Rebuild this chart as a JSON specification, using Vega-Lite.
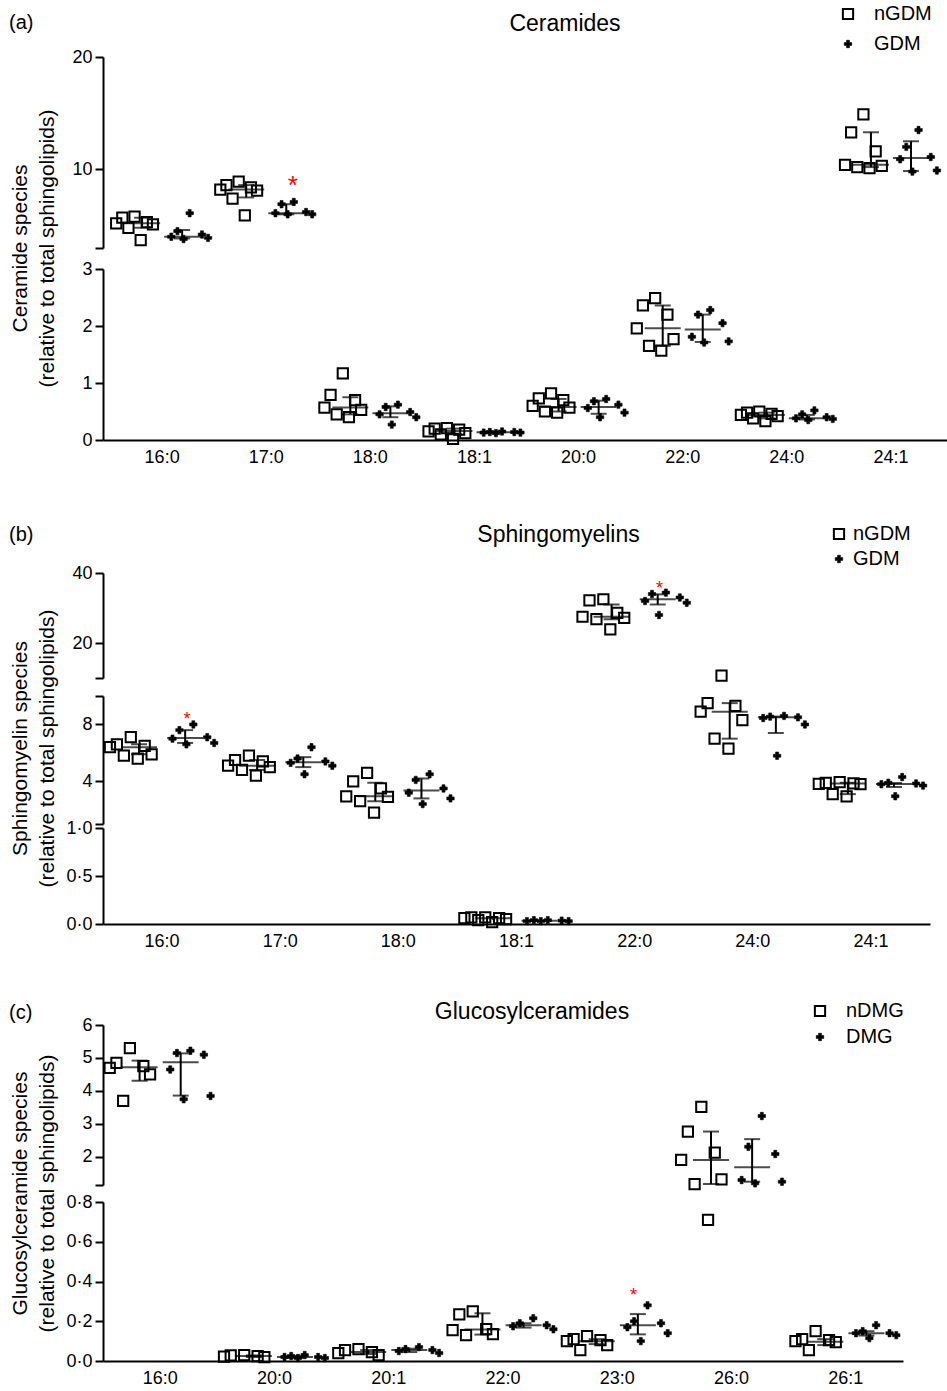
{
"$schema":"https://vega.github.io/schema/vega-lite/v6.json",
"background":"white",
"padding":{"left":8,"top":4,"right":0,"bottom":0},
"config":{
 "font":"Liberation Sans",
 "view":{"stroke":null},
 "axis":{"domainColor":"black","domainWidth":2,"tickColor":"black","tickWidth":2,"tickSize":8,"labelColor":"black","labelFontSize":18,"titleFontSize":21,"titleFontWeight":"normal","titleColor":"black","grid":false,"labelPadding":3,"labelOverlap":false},
 "title":{"fontWeight":"normal","color":"black","fontSize":23}
},
"datasets":{
"pa":[
{"species":"16:0","group":"nGDM","id":"n1","value":5.8},{"species":"16:0","group":"nGDM","id":"n2","value":5.7},{"species":"16:0","group":"nGDM","id":"n3","value":5.3},{"species":"16:0","group":"nGDM","id":"n4","value":5.2},{"species":"16:0","group":"nGDM","id":"n5","value":5.1},{"species":"16:0","group":"nGDM","id":"n6","value":4.8},{"species":"16:0","group":"nGDM","id":"n7","value":3.7},
{"species":"16:0","group":"GDM","id":"g1","value":6.1},{"species":"16:0","group":"GDM","id":"g2","value":4.5},{"species":"16:0","group":"GDM","id":"g3","value":4.2},{"species":"16:0","group":"GDM","id":"g4","value":4.0},{"species":"16:0","group":"GDM","id":"g5","value":3.9},{"species":"16:0","group":"GDM","id":"g6","value":3.8},
{"species":"17:0","group":"nGDM","id":"n1","value":8.9},{"species":"17:0","group":"nGDM","id":"n2","value":8.6},{"species":"17:0","group":"nGDM","id":"n3","value":8.4},{"species":"17:0","group":"nGDM","id":"n4","value":8.2},{"species":"17:0","group":"nGDM","id":"n5","value":8.1},{"species":"17:0","group":"nGDM","id":"n6","value":7.4},{"species":"17:0","group":"nGDM","id":"n7","value":5.9},
{"species":"17:0","group":"GDM","id":"g1","value":7.1},{"species":"17:0","group":"GDM","id":"g2","value":6.9},{"species":"17:0","group":"GDM","id":"g3","value":6.2},{"species":"17:0","group":"GDM","id":"g4","value":6.1},{"species":"17:0","group":"GDM","id":"g5","value":6.0},{"species":"17:0","group":"GDM","id":"g6","value":6.0},
{"species":"18:0","group":"nGDM","id":"n1","value":1.17},{"species":"18:0","group":"nGDM","id":"n2","value":0.79},{"species":"18:0","group":"nGDM","id":"n3","value":0.70},{"species":"18:0","group":"nGDM","id":"n4","value":0.57},{"species":"18:0","group":"nGDM","id":"n5","value":0.53},{"species":"18:0","group":"nGDM","id":"n6","value":0.45},{"species":"18:0","group":"nGDM","id":"n7","value":0.40},
{"species":"18:0","group":"GDM","id":"g1","value":0.62},{"species":"18:0","group":"GDM","id":"g2","value":0.58},{"species":"18:0","group":"GDM","id":"g3","value":0.49},{"species":"18:0","group":"GDM","id":"g4","value":0.45},{"species":"18:0","group":"GDM","id":"g5","value":0.40},{"species":"18:0","group":"GDM","id":"g6","value":0.27},
{"species":"18:1","group":"nGDM","id":"n1","value":0.21},{"species":"18:1","group":"nGDM","id":"n2","value":0.20},{"species":"18:1","group":"nGDM","id":"n3","value":0.18},{"species":"18:1","group":"nGDM","id":"n4","value":0.15},{"species":"18:1","group":"nGDM","id":"n5","value":0.12},{"species":"18:1","group":"nGDM","id":"n6","value":0.10},{"species":"18:1","group":"nGDM","id":"n7","value":0.02},
{"species":"18:1","group":"GDM","id":"g1","value":0.15},{"species":"18:1","group":"GDM","id":"g2","value":0.14},{"species":"18:1","group":"GDM","id":"g3","value":0.14},{"species":"18:1","group":"GDM","id":"g4","value":0.13},{"species":"18:1","group":"GDM","id":"g5","value":0.13},{"species":"18:1","group":"GDM","id":"g6","value":0.12},
{"species":"20:0","group":"nGDM","id":"n1","value":0.82},{"species":"20:0","group":"nGDM","id":"n2","value":0.73},{"species":"20:0","group":"nGDM","id":"n3","value":0.70},{"species":"20:0","group":"nGDM","id":"n4","value":0.60},{"species":"20:0","group":"nGDM","id":"n5","value":0.57},{"species":"20:0","group":"nGDM","id":"n6","value":0.50},{"species":"20:0","group":"nGDM","id":"n7","value":0.48},
{"species":"20:0","group":"GDM","id":"g1","value":0.72},{"species":"20:0","group":"GDM","id":"g2","value":0.68},{"species":"20:0","group":"GDM","id":"g3","value":0.62},{"species":"20:0","group":"GDM","id":"g4","value":0.56},{"species":"20:0","group":"GDM","id":"g5","value":0.48},{"species":"20:0","group":"GDM","id":"g6","value":0.40},
{"species":"22:0","group":"nGDM","id":"n1","value":2.49},{"species":"22:0","group":"nGDM","id":"n2","value":2.36},{"species":"22:0","group":"nGDM","id":"n3","value":2.20},{"species":"22:0","group":"nGDM","id":"n4","value":1.96},{"species":"22:0","group":"nGDM","id":"n5","value":1.77},{"species":"22:0","group":"nGDM","id":"n6","value":1.65},{"species":"22:0","group":"nGDM","id":"n7","value":1.57},
{"species":"22:0","group":"GDM","id":"g1","value":2.28},{"species":"22:0","group":"GDM","id":"g2","value":2.20},{"species":"22:0","group":"GDM","id":"g3","value":2.05},{"species":"22:0","group":"GDM","id":"g4","value":1.81},{"species":"22:0","group":"GDM","id":"g5","value":1.73},{"species":"22:0","group":"GDM","id":"g6","value":1.71},
{"species":"24:0","group":"nGDM","id":"n1","value":0.50},{"species":"24:0","group":"nGDM","id":"n2","value":0.48},{"species":"24:0","group":"nGDM","id":"n3","value":0.46},{"species":"24:0","group":"nGDM","id":"n4","value":0.44},{"species":"24:0","group":"nGDM","id":"n5","value":0.42},{"species":"24:0","group":"nGDM","id":"n6","value":0.38},{"species":"24:0","group":"nGDM","id":"n7","value":0.33},
{"species":"24:0","group":"GDM","id":"g1","value":0.52},{"species":"24:0","group":"GDM","id":"g2","value":0.45},{"species":"24:0","group":"GDM","id":"g3","value":0.40},{"species":"24:0","group":"GDM","id":"g4","value":0.38},{"species":"24:0","group":"GDM","id":"g5","value":0.37},{"species":"24:0","group":"GDM","id":"g6","value":0.35},
{"species":"24:1","group":"nGDM","id":"n1","value":14.9},{"species":"24:1","group":"nGDM","id":"n2","value":13.3},{"species":"24:1","group":"nGDM","id":"n3","value":11.6},{"species":"24:1","group":"nGDM","id":"n4","value":10.4},{"species":"24:1","group":"nGDM","id":"n5","value":10.3},{"species":"24:1","group":"nGDM","id":"n6","value":10.2},{"species":"24:1","group":"nGDM","id":"n7","value":10.1},
{"species":"24:1","group":"GDM","id":"g1","value":13.5},{"species":"24:1","group":"GDM","id":"g2","value":12.0},{"species":"24:1","group":"GDM","id":"g3","value":11.1},{"species":"24:1","group":"GDM","id":"g4","value":10.9},{"species":"24:1","group":"GDM","id":"g5","value":9.9},{"species":"24:1","group":"GDM","id":"g6","value":9.8}
],
"sa":[
{"species":"16:0","group":"nGDM","median":5.2,"q1":4.8,"q3":5.7},{"species":"16:0","group":"GDM","median":4.0,"q1":3.85,"q3":4.6},
{"species":"17:0","group":"nGDM","median":8.2,"q1":7.5,"q3":8.6},{"species":"17:0","group":"GDM","median":6.1,"q1":6.0,"q3":6.9},
{"species":"18:0","group":"nGDM","median":0.57,"q1":0.45,"q3":0.75},{"species":"18:0","group":"GDM","median":0.47,"q1":0.40,"q3":0.59},
{"species":"18:1","group":"nGDM","median":0.16,"q1":0.10,"q3":0.20},{"species":"18:1","group":"GDM","median":0.135,"q1":0.125,"q3":0.145},
{"species":"20:0","group":"nGDM","median":0.58,"q1":0.50,"q3":0.72},{"species":"20:0","group":"GDM","median":0.58,"q1":0.46,"q3":0.69},
{"species":"22:0","group":"nGDM","median":1.96,"q1":1.65,"q3":2.36},{"species":"22:0","group":"GDM","median":1.94,"q1":1.72,"q3":2.2},
{"species":"24:0","group":"nGDM","median":0.44,"q1":0.38,"q3":0.48},{"species":"24:0","group":"GDM","median":0.38,"q1":0.36,"q3":0.44},
{"species":"24:1","group":"nGDM","median":10.4,"q1":10.2,"q3":13.3},{"species":"24:1","group":"GDM","median":11.0,"q1":9.85,"q3":12.5}
],
"pb":[
{"species":"16:0","group":"nGDM","id":"n1","value":7.1},{"species":"16:0","group":"nGDM","id":"n2","value":6.6},{"species":"16:0","group":"nGDM","id":"n3","value":6.5},{"species":"16:0","group":"nGDM","id":"n4","value":6.4},{"species":"16:0","group":"nGDM","id":"n5","value":5.9},{"species":"16:0","group":"nGDM","id":"n6","value":5.8},{"species":"16:0","group":"nGDM","id":"n7","value":5.6},
{"species":"16:0","group":"GDM","id":"g1","value":8.0},{"species":"16:0","group":"GDM","id":"g2","value":7.6},{"species":"16:0","group":"GDM","id":"g3","value":7.1},{"species":"16:0","group":"GDM","id":"g4","value":7.0},{"species":"16:0","group":"GDM","id":"g5","value":6.7},{"species":"16:0","group":"GDM","id":"g6","value":6.6},
{"species":"17:0","group":"nGDM","id":"n1","value":5.8},{"species":"17:0","group":"nGDM","id":"n2","value":5.5},{"species":"17:0","group":"nGDM","id":"n3","value":5.4},{"species":"17:0","group":"nGDM","id":"n4","value":5.1},{"species":"17:0","group":"nGDM","id":"n5","value":5.0},{"species":"17:0","group":"nGDM","id":"n6","value":4.8},{"species":"17:0","group":"nGDM","id":"n7","value":4.4},
{"species":"17:0","group":"GDM","id":"g1","value":6.4},{"species":"17:0","group":"GDM","id":"g2","value":5.6},{"species":"17:0","group":"GDM","id":"g3","value":5.4},{"species":"17:0","group":"GDM","id":"g4","value":5.3},{"species":"17:0","group":"GDM","id":"g5","value":5.1},{"species":"17:0","group":"GDM","id":"g6","value":4.5},
{"species":"18:0","group":"nGDM","id":"n1","value":4.6},{"species":"18:0","group":"nGDM","id":"n2","value":4.0},{"species":"18:0","group":"nGDM","id":"n3","value":3.5},{"species":"18:0","group":"nGDM","id":"n4","value":2.95},{"species":"18:0","group":"nGDM","id":"n5","value":2.9},{"species":"18:0","group":"nGDM","id":"n6","value":2.6},{"species":"18:0","group":"nGDM","id":"n7","value":1.8},
{"species":"18:0","group":"GDM","id":"g1","value":4.5},{"species":"18:0","group":"GDM","id":"g2","value":4.1},{"species":"18:0","group":"GDM","id":"g3","value":3.5},{"species":"18:0","group":"GDM","id":"g4","value":3.2},{"species":"18:0","group":"GDM","id":"g5","value":2.8},{"species":"18:0","group":"GDM","id":"g6","value":2.4},
{"species":"18:1","group":"nGDM","id":"n1","value":0.07},{"species":"18:1","group":"nGDM","id":"n2","value":0.07},{"species":"18:1","group":"nGDM","id":"n3","value":0.06},{"species":"18:1","group":"nGDM","id":"n4","value":0.06},{"species":"18:1","group":"nGDM","id":"n5","value":0.05},{"species":"18:1","group":"nGDM","id":"n6","value":0.04},{"species":"18:1","group":"nGDM","id":"n7","value":0.02},
{"species":"18:1","group":"GDM","id":"g1","value":0.04},{"species":"18:1","group":"GDM","id":"g2","value":0.04},{"species":"18:1","group":"GDM","id":"g3","value":0.035},{"species":"18:1","group":"GDM","id":"g4","value":0.03},{"species":"18:1","group":"GDM","id":"g5","value":0.03},{"species":"18:1","group":"GDM","id":"g6","value":0.03},
{"species":"22:0","group":"nGDM","id":"n1","value":32.5},{"species":"22:0","group":"nGDM","id":"n2","value":32.2},{"species":"22:0","group":"nGDM","id":"n3","value":28.6},{"species":"22:0","group":"nGDM","id":"n4","value":27.5},{"species":"22:0","group":"nGDM","id":"n5","value":27.2},{"species":"22:0","group":"nGDM","id":"n6","value":26.8},{"species":"22:0","group":"nGDM","id":"n7","value":23.9},
{"species":"22:0","group":"GDM","id":"g1","value":34.4},{"species":"22:0","group":"GDM","id":"g2","value":34.0},{"species":"22:0","group":"GDM","id":"g3","value":33.0},{"species":"22:0","group":"GDM","id":"g4","value":32.0},{"species":"22:0","group":"GDM","id":"g5","value":31.5},{"species":"22:0","group":"GDM","id":"g6","value":28.0},
{"species":"24:0","group":"nGDM","id":"n1","value":10.7},{"species":"24:0","group":"nGDM","id":"n2","value":9.5},{"species":"24:0","group":"nGDM","id":"n3","value":9.3},{"species":"24:0","group":"nGDM","id":"n4","value":8.9},{"species":"24:0","group":"nGDM","id":"n5","value":8.3},{"species":"24:0","group":"nGDM","id":"n6","value":7.0},{"species":"24:0","group":"nGDM","id":"n7","value":6.3},
{"species":"24:0","group":"GDM","id":"g1","value":8.6},{"species":"24:0","group":"GDM","id":"g2","value":8.55},{"species":"24:0","group":"GDM","id":"g3","value":8.5},{"species":"24:0","group":"GDM","id":"g4","value":8.45},{"species":"24:0","group":"GDM","id":"g5","value":8.0},{"species":"24:0","group":"GDM","id":"g6","value":5.8},
{"species":"24:1","group":"nGDM","id":"n1","value":3.95},{"species":"24:1","group":"nGDM","id":"n2","value":3.9},{"species":"24:1","group":"nGDM","id":"n3","value":3.85},{"species":"24:1","group":"nGDM","id":"n4","value":3.82},{"species":"24:1","group":"nGDM","id":"n5","value":3.8},{"species":"24:1","group":"nGDM","id":"n6","value":3.1},{"species":"24:1","group":"nGDM","id":"n7","value":2.95},
{"species":"24:1","group":"GDM","id":"g1","value":4.3},{"species":"24:1","group":"GDM","id":"g2","value":3.9},{"species":"24:1","group":"GDM","id":"g3","value":3.85},{"species":"24:1","group":"GDM","id":"g4","value":3.8},{"species":"24:1","group":"GDM","id":"g5","value":3.7},{"species":"24:1","group":"GDM","id":"g6","value":2.95}
],
"sb":[
{"species":"16:0","group":"nGDM","median":6.4,"q1":5.9,"q3":6.6},{"species":"16:0","group":"GDM","median":7.05,"q1":6.7,"q3":7.6},
{"species":"17:0","group":"nGDM","median":5.1,"q1":4.8,"q3":5.5},{"species":"17:0","group":"GDM","median":5.35,"q1":5.0,"q3":5.7},
{"species":"18:0","group":"nGDM","median":2.95,"q1":2.6,"q3":3.9},{"species":"18:0","group":"GDM","median":3.35,"q1":2.8,"q3":4.2},
{"species":"18:1","group":"nGDM","median":0.06,"q1":0.04,"q3":0.07},{"species":"18:1","group":"GDM","median":0.033,"q1":0.03,"q3":0.04},
{"species":"22:0","group":"nGDM","median":27.5,"q1":26.8,"q3":31.0},{"species":"22:0","group":"GDM","median":32.5,"q1":31.0,"q3":33.9},
{"species":"24:0","group":"nGDM","median":8.9,"q1":7.0,"q3":9.5},{"species":"24:0","group":"GDM","median":8.5,"q1":7.4,"q3":8.55},
{"species":"24:1","group":"nGDM","median":3.84,"q1":3.1,"q3":3.9},{"species":"24:1","group":"GDM","median":3.82,"q1":3.6,"q3":3.88}
],
"pc":[
{"species":"16:0","group":"nDMG","id":"n1","value":5.3},{"species":"16:0","group":"nDMG","id":"n2","value":4.85},{"species":"16:0","group":"nDMG","id":"n3","value":4.75},{"species":"16:0","group":"nDMG","id":"n4","value":4.7},{"species":"16:0","group":"nDMG","id":"n5","value":4.5},{"species":"16:0","group":"nDMG","id":"n6","value":3.7},
{"species":"16:0","group":"DMG","id":"g1","value":5.22},{"species":"16:0","group":"DMG","id":"g2","value":5.15},{"species":"16:0","group":"DMG","id":"g3","value":5.1},{"species":"16:0","group":"DMG","id":"g4","value":4.65},{"species":"16:0","group":"DMG","id":"g5","value":3.85},{"species":"16:0","group":"DMG","id":"g6","value":3.75},
{"species":"20:0","group":"nDMG","id":"n1","value":0.03},{"species":"20:0","group":"nDMG","id":"n2","value":0.028},{"species":"20:0","group":"nDMG","id":"n3","value":0.025},{"species":"20:0","group":"nDMG","id":"n4","value":0.022},{"species":"20:0","group":"nDMG","id":"n5","value":0.02},
{"species":"20:0","group":"DMG","id":"g1","value":0.03},{"species":"20:0","group":"DMG","id":"g2","value":0.025},{"species":"20:0","group":"DMG","id":"g3","value":0.02},{"species":"20:0","group":"DMG","id":"g4","value":0.02},{"species":"20:0","group":"DMG","id":"g5","value":0.015},{"species":"20:0","group":"DMG","id":"g6","value":0.015},
{"species":"20:1","group":"nDMG","id":"n1","value":0.06},{"species":"20:1","group":"nDMG","id":"n2","value":0.055},{"species":"20:1","group":"nDMG","id":"n3","value":0.045},{"species":"20:1","group":"nDMG","id":"n4","value":0.04},{"species":"20:1","group":"nDMG","id":"n5","value":0.03},
{"species":"20:1","group":"DMG","id":"g1","value":0.07},{"species":"20:1","group":"DMG","id":"g2","value":0.06},{"species":"20:1","group":"DMG","id":"g3","value":0.055},{"species":"20:1","group":"DMG","id":"g4","value":0.05},{"species":"20:1","group":"DMG","id":"g5","value":0.04},
{"species":"22:0","group":"nDMG","id":"n1","value":0.25},{"species":"22:0","group":"nDMG","id":"n2","value":0.235},{"species":"22:0","group":"nDMG","id":"n3","value":0.16},{"species":"22:0","group":"nDMG","id":"n4","value":0.155},{"species":"22:0","group":"nDMG","id":"n5","value":0.135},{"species":"22:0","group":"nDMG","id":"n6","value":0.13},
{"species":"22:0","group":"DMG","id":"g1","value":0.215},{"species":"22:0","group":"DMG","id":"g2","value":0.19},{"species":"22:0","group":"DMG","id":"g3","value":0.18},{"species":"22:0","group":"DMG","id":"g4","value":0.175},{"species":"22:0","group":"DMG","id":"g5","value":0.16},
{"species":"23:0","group":"nDMG","id":"n1","value":0.125},{"species":"23:0","group":"nDMG","id":"n2","value":0.11},{"species":"23:0","group":"nDMG","id":"n3","value":0.105},{"species":"23:0","group":"nDMG","id":"n4","value":0.1},{"species":"23:0","group":"nDMG","id":"n5","value":0.08},{"species":"23:0","group":"nDMG","id":"n6","value":0.055},
{"species":"23:0","group":"DMG","id":"g1","value":0.28},{"species":"23:0","group":"DMG","id":"g2","value":0.2},{"species":"23:0","group":"DMG","id":"g3","value":0.19},{"species":"23:0","group":"DMG","id":"g4","value":0.17},{"species":"23:0","group":"DMG","id":"g5","value":0.14},{"species":"23:0","group":"DMG","id":"g6","value":0.1},
{"species":"26:0","group":"nDMG","id":"n1","value":3.52},{"species":"26:0","group":"nDMG","id":"n2","value":2.77},{"species":"26:0","group":"nDMG","id":"n3","value":2.13},{"species":"26:0","group":"nDMG","id":"n4","value":1.91},{"species":"26:0","group":"nDMG","id":"n5","value":1.32},{"species":"26:0","group":"nDMG","id":"n6","value":1.18},{"species":"26:0","group":"nDMG","id":"n7","value":0.71},
{"species":"26:0","group":"DMG","id":"g1","value":3.24},{"species":"26:0","group":"DMG","id":"g2","value":2.31},{"species":"26:0","group":"DMG","id":"g3","value":2.09},{"species":"26:0","group":"DMG","id":"g4","value":1.3},{"species":"26:0","group":"DMG","id":"g5","value":1.25},{"species":"26:0","group":"DMG","id":"g6","value":1.2},
{"species":"26:1","group":"nDMG","id":"n1","value":0.15},{"species":"26:1","group":"nDMG","id":"n2","value":0.11},{"species":"26:1","group":"nDMG","id":"n3","value":0.105},{"species":"26:1","group":"nDMG","id":"n4","value":0.1},{"species":"26:1","group":"nDMG","id":"n5","value":0.095},{"species":"26:1","group":"nDMG","id":"n6","value":0.055},
{"species":"26:1","group":"DMG","id":"g1","value":0.18},{"species":"26:1","group":"DMG","id":"g2","value":0.15},{"species":"26:1","group":"DMG","id":"g3","value":0.14},{"species":"26:1","group":"DMG","id":"g4","value":0.14},{"species":"26:1","group":"DMG","id":"g5","value":0.13},{"species":"26:1","group":"DMG","id":"g6","value":0.115}
],
"sc":[
{"species":"16:0","group":"nDMG","median":4.72,"q1":4.31,"q3":4.92},{"species":"16:0","group":"DMG","median":4.87,"q1":3.86,"q3":5.14},
{"species":"20:0","group":"nDMG","median":0.025,"q1":0.02,"q3":0.028},{"species":"20:0","group":"DMG","median":0.02,"q1":0.015,"q3":0.025},
{"species":"20:1","group":"nDMG","median":0.045,"q1":0.035,"q3":0.055},{"species":"20:1","group":"DMG","median":0.055,"q1":0.045,"q3":0.062},
{"species":"22:0","group":"nDMG","median":0.158,"q1":0.133,"q3":0.24},{"species":"22:0","group":"DMG","median":0.18,"q1":0.168,"q3":0.19},
{"species":"23:0","group":"nDMG","median":0.1,"q1":0.085,"q3":0.11},{"species":"23:0","group":"DMG","median":0.18,"q1":0.134,"q3":0.236},
{"species":"26:0","group":"nDMG","median":1.91,"q1":1.18,"q3":2.77},{"species":"26:0","group":"DMG","median":1.69,"q1":1.25,"q3":2.54},
{"species":"26:1","group":"nDMG","median":0.097,"q1":0.08,"q3":0.11},{"species":"26:1","group":"DMG","median":0.14,"q1":0.128,"q3":0.15}
]
},
"spacing":58,
"resolve":{"scale":{"shape":"independent","fill":"independent","stroke":"independent","size":"independent","strokeWidth":"independent"},"legend":{"shape":"independent","fill":"independent","stroke":"independent","size":"independent","strokeWidth":"independent"}},
"vconcat":[
{
 "title":{"text":"(a)","anchor":"start","frame":"bounds","fontSize":20,"dy":33},
 "bounds":"flush","spacing":21,
 "resolve":{"scale":{"shape":"independent","fill":"independent","stroke":"independent","size":"independent","strokeWidth":"independent"},"legend":{"shape":"independent","fill":"independent","stroke":"independent","size":"independent","strokeWidth":"independent"}},
 "vconcat":[
 {"width":844,"height":191,
  "title":{"text":"Ceramides","anchor":"middle","frame":"group","dx":40,"dy":41,"offset":9},
  "encoding":{"x":{"field":"species","type":"nominal","scale":{"domain":["16:0","17:0","18:0","18:1","20:0","22:0","24:0","24:1"],"paddingInner":0,"paddingOuter":0.053,"align":0.64},"axis":null}},
  "resolve":{"scale":{"xOffset":"independent"}},
  "layer":[
   {"data":{"name":"pa"},"transform":[{"filter":"datum.value >= 3"}],
    "mark":{"type":"point","opacity":1},
    "encoding":{
     "xOffset":{"field":"id","type":"nominal","scale":{"domain":["n4","n2","n6","n1","n7","n3","n5","s1","s2","g4","g2","g6","g1","g7","g3","g5"],"paddingInner":0,"paddingOuter":3.7}},
     "y":{"field":"value","type":"quantitative","scale":{"domain":[3,20],"nice":false,"zero":false},"axis":{"values":[3,10,20],"tickCount":20,"labelExpr":"datum.value == 3 ? '' : format(datum.value, 'd')","title":null,"labelOverlap":false}},
     "shape":{"field":"group","type":"nominal","scale":{"domain":["nGDM","GDM"],"range":["square","cross"]},"legend":{"title":null,"orient":"none","legendX":735,"legendY":-53,"labelFontSize":20,"labelColor":"black","rowPadding":10,"labelOffset":16,"padding":0}},
     "fill":{"field":"group","type":"nominal","scale":{"domain":["nGDM","GDM"],"range":["transparent","black"]},"legend":{"title":null,"orient":"none","legendX":735,"legendY":-53,"labelFontSize":20,"labelColor":"black","rowPadding":10,"labelOffset":16,"padding":0}},
     "stroke":{"field":"group","type":"nominal","scale":{"domain":["nGDM","GDM"],"range":["black","black"]},"legend":{"title":null,"orient":"none","legendX":735,"legendY":-53,"labelFontSize":20,"labelColor":"black","rowPadding":10,"labelOffset":16,"padding":0}},
     "size":{"field":"group","type":"nominal","scale":{"domain":["nGDM","GDM"],"range":[105,55]},"legend":{"title":null,"orient":"none","legendX":735,"legendY":-53,"labelFontSize":20,"labelColor":"black","rowPadding":10,"labelOffset":16,"padding":0}},
     "strokeWidth":{"field":"group","type":"nominal","scale":{"domain":["nGDM","GDM"],"range":[2,0.6]},"legend":{"title":null,"orient":"none","legendX":735,"legendY":-53,"labelFontSize":20,"labelColor":"black","rowPadding":10,"labelOffset":16,"padding":0}}}},
   {"data":{"name":"sa"},"transform":[{"filter":"datum.median >= 3"}],
    "mark":{"type":"rule","color":"black","strokeWidth":2},
    "encoding":{"xOffset":{"field":"group","type":"nominal","scale":{"domain":["nGDM","GDM"],"paddingInner":0,"paddingOuter":0.3}},
     "y":{"field":"q1","type":"quantitative","scale":{"domain":[3,20],"nice":false,"zero":false}},"y2":{"field":"q3"}}},
   {"data":{"name":"sa"},"transform":[{"filter":"datum.median >= 3"}],
    "mark":{"type":"tick","orient":"horizontal","color":"black","thickness":2,"size":36},
    "encoding":{"xOffset":{"field":"group","type":"nominal","scale":{"domain":["nGDM","GDM"],"paddingInner":0,"paddingOuter":0.3}},
     "y":{"field":"median","type":"quantitative","scale":{"domain":[3,20],"nice":false,"zero":false}}}},
   {"data":{"name":"sa"},"transform":[{"filter":"datum.median >= 3"},{"fold":["q1","q3"],"as":["stat","bound"]}],
    "mark":{"type":"tick","orient":"horizontal","color":"black","thickness":2,"size":16},
    "encoding":{"xOffset":{"field":"group","type":"nominal","scale":{"domain":["nGDM","GDM"],"paddingInner":0,"paddingOuter":0.3}},
     "y":{"field":"bound","type":"quantitative","scale":{"domain":[3,20],"nice":false,"zero":false}}}},
   {"data":{"name":"pa"},"transform":[{"filter":"datum.value >= 3"},{"lookup":"species","from":{"data":{"values":[{"species":"17:0","sig":"GDM"}]},"key":"species","fields":["sig"]}},{"filter":"datum.group === datum.sig"},{"aggregate":[{"op":"max","field":"value","as":"top"}],"groupby":["species","group"]}],
    "mark":{"type":"text","text":"*","color":"#ff0000","fontSize":26,"baseline":"alphabetic","dx":-6,"dy":-8},
    "encoding":{"xOffset":{"field":"group","type":"nominal","scale":{"domain":["nGDM","GDM"],"paddingInner":0,"paddingOuter":0.3}},
     "y":{"field":"top","type":"quantitative","scale":{"domain":[3,20],"nice":false,"zero":false}}}}
  ]},
 {"width":844,"height":171,
  "encoding":{"x":{"field":"species","type":"nominal","scale":{"domain":["16:0","17:0","18:0","18:1","20:0","22:0","24:0","24:1"],"paddingInner":0,"paddingOuter":0.053,"align":0.64},"axis":{"labelAngle":0,"ticks":false,"title":null,"labelPadding":8}}},
  "resolve":{"scale":{"xOffset":"independent"}},
  "layer":[
   {"data":{"name":"pa"},"transform":[{"filter":"datum.value < 3"}],
    "mark":{"type":"point","opacity":1},
    "encoding":{
     "xOffset":{"field":"id","type":"nominal","scale":{"domain":["n4","n2","n6","n1","n7","n3","n5","s1","s2","g4","g2","g6","g1","g7","g3","g5"],"paddingInner":0,"paddingOuter":3.7}},
     "y":{"field":"value","type":"quantitative","scale":{"domain":[0,3],"nice":false,"zero":false},"axis":{"values":[0,1,2,3],"tickCount":20,"format":"d","labelOverlap":false,"title":["Ceramide species","(relative to total sphingolipids)"],"titleY":-21,"titleX":-73,"titleLineHeight":27}},
     "shape":{"field":"group","type":"nominal","scale":{"domain":["nGDM","GDM"],"range":["square","cross"]},"legend":null},
     "fill":{"field":"group","type":"nominal","scale":{"domain":["nGDM","GDM"],"range":["transparent","black"]},"legend":null},
     "stroke":{"field":"group","type":"nominal","scale":{"domain":["nGDM","GDM"],"range":["black","black"]},"legend":null},
     "size":{"field":"group","type":"nominal","scale":{"domain":["nGDM","GDM"],"range":[105,55]},"legend":null},
     "strokeWidth":{"field":"group","type":"nominal","scale":{"domain":["nGDM","GDM"],"range":[2,0.6]},"legend":null}}},
   {"data":{"name":"sa"},"transform":[{"filter":"datum.median < 3"}],
    "mark":{"type":"rule","color":"black","strokeWidth":2},
    "encoding":{"xOffset":{"field":"group","type":"nominal","scale":{"domain":["nGDM","GDM"],"paddingInner":0,"paddingOuter":0.3}},
     "y":{"field":"q1","type":"quantitative","scale":{"domain":[0,3],"nice":false,"zero":false}},"y2":{"field":"q3"}}},
   {"data":{"name":"sa"},"transform":[{"filter":"datum.median < 3"}],
    "mark":{"type":"tick","orient":"horizontal","color":"black","thickness":2,"size":36},
    "encoding":{"xOffset":{"field":"group","type":"nominal","scale":{"domain":["nGDM","GDM"],"paddingInner":0,"paddingOuter":0.3}},
     "y":{"field":"median","type":"quantitative","scale":{"domain":[0,3],"nice":false,"zero":false}}}},
   {"data":{"name":"sa"},"transform":[{"filter":"datum.median < 3"},{"fold":["q1","q3"],"as":["stat","bound"]}],
    "mark":{"type":"tick","orient":"horizontal","color":"black","thickness":2,"size":16},
    "encoding":{"xOffset":{"field":"group","type":"nominal","scale":{"domain":["nGDM","GDM"],"paddingInner":0,"paddingOuter":0.3}},
     "y":{"field":"bound","type":"quantitative","scale":{"domain":[0,3],"nice":false,"zero":false}}}}
  ]}
 ]
},
{
 "spacing":51,
 "resolve":{"scale":{"shape":"independent","fill":"independent","stroke":"independent","size":"independent","strokeWidth":"independent"},"legend":{"shape":"independent","fill":"independent","stroke":"independent","size":"independent","strokeWidth":"independent"}},
 "vconcat":[
{
 "title":{"text":"(b)","anchor":"start","frame":"bounds","fontSize":20,"dy":25},
 "bounds":"flush","spacing":18,
 "resolve":{"scale":{"shape":"independent","fill":"independent","stroke":"independent","size":"independent","strokeWidth":"independent"},"legend":{"shape":"independent","fill":"independent","stroke":"independent","size":"independent","strokeWidth":"independent"}},
 "vconcat":[
 {"width":827,"height":105,
  "title":{"text":"Sphingomyelins","anchor":"middle","frame":"group","dx":42,"dy":39,"offset":16},
  "encoding":{"x":{"field":"species","type":"nominal","scale":{"domain":["16:0","17:0","18:0","18:1","22:0","24:0","24:1"],"paddingInner":0,"paddingOuter":0},"axis":null}},
  "resolve":{"scale":{"xOffset":"independent"}},
  "layer":[
   {"data":{"name":"pb"},"transform":[{"filter":"datum.value >= 10"}],
    "mark":{"type":"point","opacity":1},
    "encoding":{
     "xOffset":{"field":"id","type":"nominal","scale":{"domain":["n4","n2","n6","n1","n7","n3","n5","s1","s2","g4","g2","g6","g1","g7","g3","g5"],"paddingInner":0,"paddingOuter":3.56}},
     "y":{"field":"value","type":"quantitative","scale":{"domain":[10,40],"nice":false,"zero":false},"axis":{"values":[10,20,40],"tickCount":20,"labelExpr":"datum.value == 10 ? '' : format(datum.value, 'd')","title":null,"labelOverlap":false}},
     "shape":{"field":"group","type":"nominal","scale":{"domain":["nGDM","GDM"],"range":["square","cross"]},"legend":{"title":null,"orient":"none","legendX":726,"legendY":-49,"labelFontSize":20,"labelColor":"black","rowPadding":5,"labelOffset":4,"padding":0}},
     "fill":{"field":"group","type":"nominal","scale":{"domain":["nGDM","GDM"],"range":["transparent","black"]},"legend":{"title":null,"orient":"none","legendX":726,"legendY":-49,"labelFontSize":20,"labelColor":"black","rowPadding":5,"labelOffset":4,"padding":0}},
     "stroke":{"field":"group","type":"nominal","scale":{"domain":["nGDM","GDM"],"range":["black","black"]},"legend":{"title":null,"orient":"none","legendX":726,"legendY":-49,"labelFontSize":20,"labelColor":"black","rowPadding":5,"labelOffset":4,"padding":0}},
     "size":{"field":"group","type":"nominal","scale":{"domain":["nGDM","GDM"],"range":[105,55]},"legend":{"title":null,"orient":"none","legendX":726,"legendY":-49,"labelFontSize":20,"labelColor":"black","rowPadding":5,"labelOffset":4,"padding":0}},
     "strokeWidth":{"field":"group","type":"nominal","scale":{"domain":["nGDM","GDM"],"range":[2,0.6]},"legend":{"title":null,"orient":"none","legendX":726,"legendY":-49,"labelFontSize":20,"labelColor":"black","rowPadding":5,"labelOffset":4,"padding":0}}}},
   {"data":{"name":"sb"},"transform":[{"filter":"datum.median >= 10"}],
    "mark":{"type":"rule","color":"black","strokeWidth":2},
    "encoding":{"xOffset":{"field":"group","type":"nominal","scale":{"domain":["nGDM","GDM"],"paddingInner":0,"paddingOuter":0.28}},
     "y":{"field":"q1","type":"quantitative","scale":{"domain":[10,40],"nice":false,"zero":false}},"y2":{"field":"q3"}}},
   {"data":{"name":"sb"},"transform":[{"filter":"datum.median >= 10"}],
    "mark":{"type":"tick","orient":"horizontal","color":"black","thickness":2,"size":36},
    "encoding":{"xOffset":{"field":"group","type":"nominal","scale":{"domain":["nGDM","GDM"],"paddingInner":0,"paddingOuter":0.28}},
     "y":{"field":"median","type":"quantitative","scale":{"domain":[10,40],"nice":false,"zero":false}}}},
   {"data":{"name":"sb"},"transform":[{"filter":"datum.median >= 10"},{"fold":["q1","q3"],"as":["stat","bound"]}],
    "mark":{"type":"tick","orient":"horizontal","color":"black","thickness":2,"size":16},
    "encoding":{"xOffset":{"field":"group","type":"nominal","scale":{"domain":["nGDM","GDM"],"paddingInner":0,"paddingOuter":0.28}},
     "y":{"field":"bound","type":"quantitative","scale":{"domain":[10,40],"nice":false,"zero":false}}}},
   {"data":{"name":"pb"},"transform":[{"filter":"datum.value >= 10"},{"lookup":"species","from":{"data":{"values":[{"species":"16:0","sig":"GDM"},{"species":"22:0","sig":"GDM"}]},"key":"species","fields":["sig"]}},{"filter":"datum.group === datum.sig"},{"aggregate":[{"op":"max","field":"value","as":"top"}],"groupby":["species","group"]}],
    "mark":{"type":"text","text":"*","color":"#ff0000","fontSize":18,"baseline":"alphabetic","dx":-13,"dy":1},
    "encoding":{"xOffset":{"field":"group","type":"nominal","scale":{"domain":["nGDM","GDM"],"paddingInner":0,"paddingOuter":0.28}},
     "y":{"field":"top","type":"quantitative","scale":{"domain":[10,40],"nice":false,"zero":false}}}}
  ]},
 {"bounds":"flush","spacing":4,
  "resolve":{"scale":{"shape":"independent","fill":"independent","stroke":"independent","size":"independent","strokeWidth":"independent"},"legend":{"shape":"independent","fill":"independent","stroke":"independent","size":"independent","strokeWidth":"independent"}},
  "vconcat":[
  {"width":827,"height":128,
   "encoding":{"x":{"field":"species","type":"nominal","scale":{"domain":["16:0","17:0","18:0","18:1","22:0","24:0","24:1"],"paddingInner":0,"paddingOuter":0},"axis":null}},
   "resolve":{"scale":{"xOffset":"independent"}},
   "layer":[
    {"data":{"name":"pb"},"transform":[{"filter":"datum.value >= 1 && datum.value < 10"}],
     "mark":{"type":"point","opacity":1},
     "encoding":{
      "xOffset":{"field":"id","type":"nominal","scale":{"domain":["n4","n2","n6","n1","n7","n3","n5","s1","s2","g4","g2","g6","g1","g7","g3","g5"],"paddingInner":0,"paddingOuter":3.56}},
      "y":{"field":"value","type":"quantitative","scale":{"domain":[1,10],"nice":false,"zero":false},"axis":{"values":[1,4,8,10],"tickCount":20,"labelOverlap":false,"labelExpr":"datum.value == 4 || datum.value == 8 ? format(datum.value, 'd') : ''","title":["Sphingomyelin species","(relative to total sphingolipids)"],"titleY":52,"titleX":-73,"titleLineHeight":27}},
      "shape":{"field":"group","type":"nominal","scale":{"domain":["nGDM","GDM"],"range":["square","cross"]},"legend":null},
      "fill":{"field":"group","type":"nominal","scale":{"domain":["nGDM","GDM"],"range":["transparent","black"]},"legend":null},
      "stroke":{"field":"group","type":"nominal","scale":{"domain":["nGDM","GDM"],"range":["black","black"]},"legend":null},
      "size":{"field":"group","type":"nominal","scale":{"domain":["nGDM","GDM"],"range":[105,55]},"legend":null},
      "strokeWidth":{"field":"group","type":"nominal","scale":{"domain":["nGDM","GDM"],"range":[2,0.6]},"legend":null}}},
    {"data":{"name":"sb"},"transform":[{"filter":"datum.median >= 1 && datum.median < 10"}],
     "mark":{"type":"rule","color":"black","strokeWidth":2},
     "encoding":{"xOffset":{"field":"group","type":"nominal","scale":{"domain":["nGDM","GDM"],"paddingInner":0,"paddingOuter":0.28}},
      "y":{"field":"q1","type":"quantitative","scale":{"domain":[1,10],"nice":false,"zero":false}},"y2":{"field":"q3"}}},
    {"data":{"name":"sb"},"transform":[{"filter":"datum.median >= 1 && datum.median < 10"}],
     "mark":{"type":"tick","orient":"horizontal","color":"black","thickness":2,"size":36},
     "encoding":{"xOffset":{"field":"group","type":"nominal","scale":{"domain":["nGDM","GDM"],"paddingInner":0,"paddingOuter":0.28}},
      "y":{"field":"median","type":"quantitative","scale":{"domain":[1,10],"nice":false,"zero":false}}}},
    {"data":{"name":"sb"},"transform":[{"filter":"datum.median >= 1 && datum.median < 10"},{"fold":["q1","q3"],"as":["stat","bound"]}],
     "mark":{"type":"tick","orient":"horizontal","color":"black","thickness":2,"size":16},
     "encoding":{"xOffset":{"field":"group","type":"nominal","scale":{"domain":["nGDM","GDM"],"paddingInner":0,"paddingOuter":0.28}},
      "y":{"field":"bound","type":"quantitative","scale":{"domain":[1,10],"nice":false,"zero":false}}}},
    {"data":{"name":"pb"},"transform":[{"filter":"datum.value >= 1 && datum.value < 10"},{"lookup":"species","from":{"data":{"values":[{"species":"16:0","sig":"GDM"},{"species":"22:0","sig":"GDM"}]},"key":"species","fields":["sig"]}},{"filter":"datum.group === datum.sig"},{"aggregate":[{"op":"max","field":"value","as":"top"}],"groupby":["species","group"]}],
     "mark":{"type":"text","text":"*","color":"#ff0000","fontSize":18,"baseline":"alphabetic","dx":-13,"dy":1},
     "encoding":{"xOffset":{"field":"group","type":"nominal","scale":{"domain":["nGDM","GDM"],"paddingInner":0,"paddingOuter":0.28}},
      "y":{"field":"top","type":"quantitative","scale":{"domain":[1,10],"nice":false,"zero":false}}}}
   ]},
  {"width":827,"height":96,
   "encoding":{"x":{"field":"species","type":"nominal","scale":{"domain":["16:0","17:0","18:0","18:1","22:0","24:0","24:1"],"paddingInner":0,"paddingOuter":0},"axis":{"labelAngle":0,"ticks":false,"title":null,"labelPadding":8}}},
   "resolve":{"scale":{"xOffset":"independent"}},
   "layer":[
    {"data":{"name":"pb"},"transform":[{"filter":"datum.value < 1"}],
     "mark":{"type":"point","opacity":1},
     "encoding":{
      "xOffset":{"field":"id","type":"nominal","scale":{"domain":["n4","n2","n6","n1","n7","n3","n5","s1","s2","g4","g2","g6","g1","g7","g3","g5"],"paddingInner":0,"paddingOuter":3.56}},
      "y":{"field":"value","type":"quantitative","scale":{"domain":[0,1],"nice":false,"zero":false},"axis":{"values":[0,0.5,1],"tickCount":20,"labelOverlap":false,"labelExpr":"replace(format(datum.value, '.1f'), '.', '·')","title":null}},
      "shape":{"field":"group","type":"nominal","scale":{"domain":["nGDM","GDM"],"range":["square","cross"]},"legend":null},
      "fill":{"field":"group","type":"nominal","scale":{"domain":["nGDM","GDM"],"range":["transparent","black"]},"legend":null},
      "stroke":{"field":"group","type":"nominal","scale":{"domain":["nGDM","GDM"],"range":["black","black"]},"legend":null},
      "size":{"field":"group","type":"nominal","scale":{"domain":["nGDM","GDM"],"range":[105,55]},"legend":null},
      "strokeWidth":{"field":"group","type":"nominal","scale":{"domain":["nGDM","GDM"],"range":[2,0.6]},"legend":null}}},
    {"data":{"name":"sb"},"transform":[{"filter":"datum.median < 1"}],
     "mark":{"type":"rule","color":"black","strokeWidth":2},
     "encoding":{"xOffset":{"field":"group","type":"nominal","scale":{"domain":["nGDM","GDM"],"paddingInner":0,"paddingOuter":0.28}},
      "y":{"field":"q1","type":"quantitative","scale":{"domain":[0,1],"nice":false,"zero":false}},"y2":{"field":"q3"}}},
    {"data":{"name":"sb"},"transform":[{"filter":"datum.median < 1"}],
     "mark":{"type":"tick","orient":"horizontal","color":"black","thickness":2,"size":36},
     "encoding":{"xOffset":{"field":"group","type":"nominal","scale":{"domain":["nGDM","GDM"],"paddingInner":0,"paddingOuter":0.28}},
      "y":{"field":"median","type":"quantitative","scale":{"domain":[0,1],"nice":false,"zero":false}}}}
   ]}
  ]}
 ]
},
{
 "title":{"text":"(c)","anchor":"start","frame":"bounds","fontSize":20,"dy":26},
 "bounds":"flush","spacing":17,
 "resolve":{"scale":{"shape":"independent","fill":"independent","stroke":"independent","size":"independent","strokeWidth":"independent"},"legend":{"shape":"independent","fill":"independent","stroke":"independent","size":"independent","strokeWidth":"independent"}},
 "vconcat":[
 {"width":800,"height":160,
  "title":{"text":"Glucosylceramides","anchor":"middle","frame":"group","dx":29,"dy":23,"offset":0},
  "encoding":{"x":{"field":"species","type":"nominal","scale":{"domain":["16:0","20:0","20:1","22:0","23:0","26:0","26:1"],"paddingInner":0,"paddingOuter":0},"axis":null}},
  "resolve":{"scale":{"xOffset":"independent"}},
  "layer":[
   {"data":{"name":"pc"},"transform":[{"filter":"datum.value >= 1"}],
    "mark":{"type":"point","opacity":1},
    "encoding":{
     "xOffset":{"field":"id","type":"nominal","scale":{"domain":["n4","n2","n6","n1","n7","n3","n5","s1","s2","g4","g2","g6","g1","g7","g3","g5"],"paddingInner":0,"paddingOuter":4.53}},
     "y":{"field":"value","type":"quantitative","scale":{"domain":[1.15,6],"nice":false,"zero":false},"axis":{"values":[1.15,2,3,4,5,6],"tickCount":20,"labelOverlap":false,"labelExpr":"datum.value < 1.5 ? '' : format(datum.value, 'd')","title":null}},
     "shape":{"field":"group","type":"nominal","scale":{"domain":["nDMG","DMG"],"range":["square","cross"]},"legend":{"title":null,"orient":"none","legendX":707,"legendY":-24,"labelFontSize":20,"labelColor":"black","rowPadding":6,"labelOffset":16,"padding":0}},
     "fill":{"field":"group","type":"nominal","scale":{"domain":["nDMG","DMG"],"range":["transparent","black"]},"legend":{"title":null,"orient":"none","legendX":707,"legendY":-24,"labelFontSize":20,"labelColor":"black","rowPadding":6,"labelOffset":16,"padding":0}},
     "stroke":{"field":"group","type":"nominal","scale":{"domain":["nDMG","DMG"],"range":["black","black"]},"legend":{"title":null,"orient":"none","legendX":707,"legendY":-24,"labelFontSize":20,"labelColor":"black","rowPadding":6,"labelOffset":16,"padding":0}},
     "size":{"field":"group","type":"nominal","scale":{"domain":["nDMG","DMG"],"range":[105,55]},"legend":{"title":null,"orient":"none","legendX":707,"legendY":-24,"labelFontSize":20,"labelColor":"black","rowPadding":6,"labelOffset":16,"padding":0}},
     "strokeWidth":{"field":"group","type":"nominal","scale":{"domain":["nDMG","DMG"],"range":[2,0.6]},"legend":{"title":null,"orient":"none","legendX":707,"legendY":-24,"labelFontSize":20,"labelColor":"black","rowPadding":6,"labelOffset":16,"padding":0}}}},
   {"data":{"name":"sc"},"transform":[{"filter":"datum.median >= 1"}],
    "mark":{"type":"rule","color":"black","strokeWidth":2},
    "encoding":{"xOffset":{"field":"group","type":"nominal","scale":{"domain":["nDMG","DMG"],"paddingInner":0,"paddingOuter":0.39}},
     "y":{"field":"q1","type":"quantitative","scale":{"domain":[1.15,6],"nice":false,"zero":false}},"y2":{"field":"q3"}}},
   {"data":{"name":"sc"},"transform":[{"filter":"datum.median >= 1"}],
    "mark":{"type":"tick","orient":"horizontal","color":"black","thickness":2,"size":36},
    "encoding":{"xOffset":{"field":"group","type":"nominal","scale":{"domain":["nDMG","DMG"],"paddingInner":0,"paddingOuter":0.39}},
     "y":{"field":"median","type":"quantitative","scale":{"domain":[1.15,6],"nice":false,"zero":false}}}},
   {"data":{"name":"sc"},"transform":[{"filter":"datum.median >= 1"},{"fold":["q1","q3"],"as":["stat","bound"]}],
    "mark":{"type":"tick","orient":"horizontal","color":"black","thickness":2,"size":16},
    "encoding":{"xOffset":{"field":"group","type":"nominal","scale":{"domain":["nDMG","DMG"],"paddingInner":0,"paddingOuter":0.39}},
     "y":{"field":"bound","type":"quantitative","scale":{"domain":[1.15,6],"nice":false,"zero":false}}}}
  ]},
 {"width":800,"height":159,
  "encoding":{"x":{"field":"species","type":"nominal","scale":{"domain":["16:0","20:0","20:1","22:0","23:0","26:0","26:1"],"paddingInner":0,"paddingOuter":0},"axis":{"labelAngle":0,"ticks":false,"title":null,"labelPadding":8}}},
  "resolve":{"scale":{"xOffset":"independent"}},
  "layer":[
   {"data":{"name":"pc"},"transform":[{"filter":"datum.value < 1"}],
    "mark":{"type":"point","opacity":1},
    "encoding":{
     "xOffset":{"field":"id","type":"nominal","scale":{"domain":["n4","n2","n6","n1","n7","n3","n5","s1","s2","g4","g2","g6","g1","g7","g3","g5"],"paddingInner":0,"paddingOuter":4.53}},
     "y":{"field":"value","type":"quantitative","scale":{"domain":[0,0.8],"nice":false,"zero":false},"axis":{"values":[0,0.2,0.4,0.6,0.8],"tickCount":20,"labelOverlap":false,"labelExpr":"replace(format(datum.value, '.1f'), '.', '·')","title":["Glucosylceramide species","(relative to total sphingolipids)"],"titleY":-9,"titleX":-73,"titleLineHeight":27}},
     "shape":{"field":"group","type":"nominal","scale":{"domain":["nDMG","DMG"],"range":["square","cross"]},"legend":null},
     "fill":{"field":"group","type":"nominal","scale":{"domain":["nDMG","DMG"],"range":["transparent","black"]},"legend":null},
     "stroke":{"field":"group","type":"nominal","scale":{"domain":["nDMG","DMG"],"range":["black","black"]},"legend":null},
     "size":{"field":"group","type":"nominal","scale":{"domain":["nDMG","DMG"],"range":[105,55]},"legend":null},
     "strokeWidth":{"field":"group","type":"nominal","scale":{"domain":["nDMG","DMG"],"range":[2,0.6]},"legend":null}}},
   {"data":{"name":"sc"},"transform":[{"filter":"datum.median < 1"}],
    "mark":{"type":"rule","color":"black","strokeWidth":2},
    "encoding":{"xOffset":{"field":"group","type":"nominal","scale":{"domain":["nDMG","DMG"],"paddingInner":0,"paddingOuter":0.39}},
     "y":{"field":"q1","type":"quantitative","scale":{"domain":[0,0.8],"nice":false,"zero":false}},"y2":{"field":"q3"}}},
   {"data":{"name":"sc"},"transform":[{"filter":"datum.median < 1"}],
    "mark":{"type":"tick","orient":"horizontal","color":"black","thickness":2,"size":36},
    "encoding":{"xOffset":{"field":"group","type":"nominal","scale":{"domain":["nDMG","DMG"],"paddingInner":0,"paddingOuter":0.39}},
     "y":{"field":"median","type":"quantitative","scale":{"domain":[0,0.8],"nice":false,"zero":false}}}},
   {"data":{"name":"sc"},"transform":[{"filter":"datum.median < 1"},{"fold":["q1","q3"],"as":["stat","bound"]}],
    "mark":{"type":"tick","orient":"horizontal","color":"black","thickness":2,"size":16},
    "encoding":{"xOffset":{"field":"group","type":"nominal","scale":{"domain":["nDMG","DMG"],"paddingInner":0,"paddingOuter":0.39}},
     "y":{"field":"bound","type":"quantitative","scale":{"domain":[0,0.8],"nice":false,"zero":false}}}},
   {"data":{"name":"pc"},"transform":[{"filter":"datum.value < 1"},{"lookup":"species","from":{"data":{"values":[{"species":"23:0","sig":"DMG"}]},"key":"species","fields":["sig"]}},{"filter":"datum.group === datum.sig"},{"aggregate":[{"op":"max","field":"value","as":"top"}],"groupby":["species","group"]}],
    "mark":{"type":"text","text":"*","color":"#ff0000","fontSize":18,"baseline":"alphabetic","dx":-16,"dy":-4},
    "encoding":{"xOffset":{"field":"group","type":"nominal","scale":{"domain":["nDMG","DMG"],"paddingInner":0,"paddingOuter":0.39}},
     "y":{"field":"top","type":"quantitative","scale":{"domain":[0,0.8],"nice":false,"zero":false}}}}
  ]}
 ]
}
 ]
}
]
}
